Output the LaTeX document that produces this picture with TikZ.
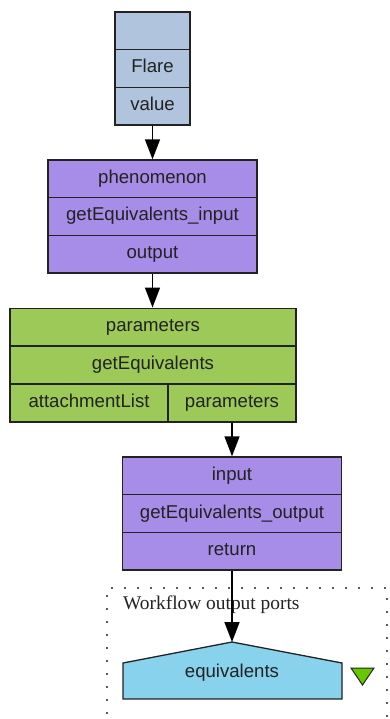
\documentclass[tikz,border=0pt]{standalone}
\usepackage{fontspec}
\setmainfont{Liberation Sans}
\newfontfamily\portserif{Liberation Serif}
\usetikzlibrary{arrows.meta}
\definecolor{inblue}{RGB}{176,196,222}
\definecolor{procpurple}{RGB}{167,140,232}
\definecolor{wsgreen}{RGB}{157,201,88}
\definecolor{portblue}{RGB}{137,210,238}
\definecolor{markgreen}{RGB}{102,200,0}
\definecolor{edgegray}{RGB}{34,34,34}
\tikzset{
  cell/.style={draw=edgegray, line width=1.3pt, inner sep=0pt, minimum height=37.7pt,
    text height=13pt, text depth=4pt,
    font=\fontsize{18.6}{21}\selectfont, text=edgegray},
  bluecell/.style={cell, fill=inblue, minimum width=75pt},
  purp1/.style={cell, fill=procpurple, minimum width=209pt},
  purp2/.style={cell, fill=procpurple, minimum width=219pt},
  greencell/.style={cell, fill=wsgreen},
  flow/.style={draw=black, line width=1.5pt, -{Triangle[length=20pt,width=15pt]}},
}
\begin{document}
\begin{tikzpicture}[x=1pt,y=-1pt]
\useasboundingbox (0,0) rectangle (390,719);

% workflow output ports frame
\draw[gray!70!black, line width=2.4pt, dash pattern=on 2.4pt off 10.6pt]
  (107,740) -- (107,588) -- (387,588) -- (387,740);
\node[anchor=west, font=\portserif\fontsize{19.4}{22}\selectfont, text=edgegray, inner sep=0pt] (wlabel) at (123,605) {Workflow output ports};

% input: Flare
\node[bluecell] (f0) at (152.5,30.8) {};
\node[bluecell] (f1) at (152.5,68.5) {Flare};
\node[bluecell] (f2) at (152.5,106.2) {value};

% getEquivalents_input
\node[purp1] (p0) at (152.5,178.8) {phenomenon};
\node[purp1] (p1) at (152.5,216.5) {getEquivalents\_input};
\node[purp1] (p2) at (152.5,254.2) {output};

% getEquivalents
\node[greencell, minimum width=286pt] (g0) at (153,327) {parameters};
\node[greencell, minimum width=286pt] (g1) at (153,365) {getEquivalents};
\node[greencell, minimum width=158pt] (g2) at (89,403) {attachmentList};
\node[greencell, minimum width=128pt] (g3) at (232,403) {parameters};

% getEquivalents_output
\node[purp2] (q0) at (232,475.8) {input};
\node[purp2] (q1) at (232,513.5) {getEquivalents\_output};
\node[purp2] (q2) at (232,551.2) {return};

% output port
\coordinate (eqtop) at (232,642);
\draw[draw=edgegray, line width=1.3pt, fill=portblue]
  (123,663) -- (eqtop) -- (342,663) -- (342,699) -- (123,699) -- cycle;
\node[font=\fontsize{18.6}{21}\selectfont, text=edgegray, inner sep=0pt] (eq) at (232,673) {equivalents};
\draw[draw=edgegray, line width=1pt, fill=markgreen] (351,668) -- (374,668) -- (362.5,685) -- cycle;

% data links
\draw[flow] (f2.south) -- (p0.north);
\draw[flow] (p2.south) -- (p2.south |- g0.north);
\draw[flow] (g3.south) -- (q0.north);
\draw[flow] (q2.south) -- (eqtop);
\end{tikzpicture}
\end{document}
